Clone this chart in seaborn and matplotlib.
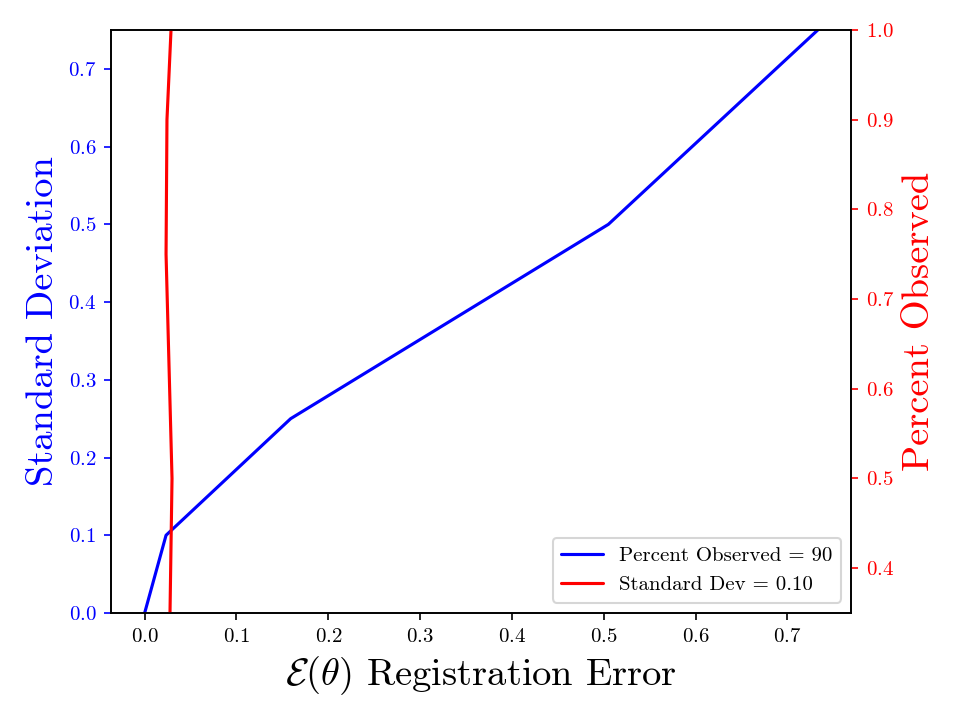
import numpy as np
import pandas as pd
import matplotlib
matplotlib.use("Agg")
import matplotlib.pyplot as plt
import seaborn as sns

# valores
std_error = [0.0, 0.0233, 0.159, 0.505, 0.733]
std_dev = [0.0, 0.10, 0.25, 0.50, 0.75]

pct_error = [0.0276, 0.0298, 0.0233, 0.0243, 0.0287]
pct_obs = [0.35, 0.50, 0.75, 0.90, 1.00]

sns.set_style("ticks")
plt.rcParams['font.family'] = ['serif']
plt.rcParams['font.serif'] = ['cmr10', 'DejaVu Serif']
plt.rcParams['mathtext.fontset'] = 'cm'
plt.rcParams['axes.formatter.use_mathtext'] = True
plt.rcParams['axes.unicode_minus'] = False
plt.rcParams['text.color'] = 'black'
plt.rcParams['axes.labelcolor'] = 'black'
plt.rcParams['xtick.color'] = 'black'
plt.rcParams['ytick.color'] = 'black'

df_std = pd.DataFrame({'erro': std_error, 'valor': std_dev})
df_pct = pd.DataFrame({'erro': pct_error, 'valor': pct_obs})

fig, ax = plt.subplots(figsize=(961 / 150, 721 / 150), dpi=150)
fig.subplots_adjust(left=0.1155, right=0.886, top=0.9584, bottom=0.1498)

sns.lineplot(data=df_std, x='erro', y='valor', ax=ax, color='blue', sort=False,
             estimator=None, label='Percent Observed = 90')
ax.set_ylim(0, 0.75)
ax.set_xlabel(r'$\mathcal{E}(\theta)$ Registration Error', fontsize=18.5, color='black')
ax.set_ylabel('Standard Deviation', fontsize=18.5, color='blue')
ax.tick_params(axis='y', colors='blue', labelsize=10)
ax.tick_params(axis='x', colors='black', labelsize=10)

ax2 = ax.twinx()
sns.lineplot(data=df_pct, x='erro', y='valor', ax=ax2, color='red', sort=False,
             estimator=None, label='Standard Dev = 0.10')
ax2.set_ylim(0.35, 1.0)
ax2.set_ylabel('Percent Observed', fontsize=18.5, color='red')
ax2.tick_params(axis='y', colors='red', labelsize=10)

for a in (ax, ax2):
    for s in a.spines.values():
        s.set_visible(True)
        s.set_color('black')

h1, l1 = ax.get_legend_handles_labels()
h2, l2 = ax2.get_legend_handles_labels()
ax.get_legend().remove()
leg = ax2.legend(h1 + h2, l1 + l2, loc='lower right', fontsize=10)
for t in leg.get_texts():
    t.set_color('black')

plt.savefig('out.png', dpi=150)
